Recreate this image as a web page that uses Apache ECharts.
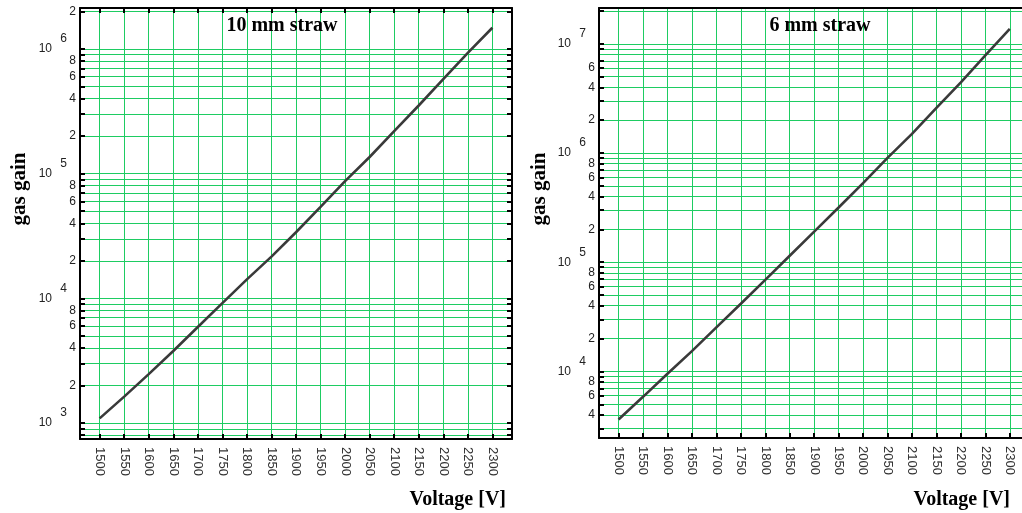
<!DOCTYPE html>
<html><head><meta charset="utf-8">
<script src="https://cdn.jsdelivr.net/npm/echarts@6/dist/echarts.min.js"></script>
<style>html,body{margin:0;padding:0;background:#fff}#c{width:1022px;height:513px}</style>
</head><body><div id="c"></div>
<script>
const voltages = [1500,1550,1600,1650,1700,1750,1800,1850,1900,1950,2000,2050,2100,2150,2200,2250,2300];
const gain10mm = [1090,1630,2470,3780,5890,9160,14200,21600,33900,54200,87100,136000,219000,352000,572000,931000,1480000];
const gain6mm = [3630,5850,9510,15350,25300,41700,68900,114600,190500,317000,530000,902000,1496000,2588000,4446000,7852000,13710000];
const voltageTicks = [1500,1550,1600,1650,1700,1750,1800,1850,1900,1950,2000,2050,2100,2150,2200,2250,2300];
const gridLines10mm = [800,900,1000,2000,3000,4000,5000,6000,7000,8000,9000,10000,20000,30000,40000,50000,60000,70000,80000,90000,100000,200000,300000,400000,500000,600000,700000,800000,900000,1000000,2000000];
const gridLines6mm = [3000,4000,5000,6000,7000,8000,9000,10000,20000,30000,40000,50000,60000,70000,80000,90000,100000,200000,300000,400000,500000,600000,700000,800000,900000,1000000,2000000,3000000,4000000,5000000,6000000,7000000,8000000,9000000,10000000,20000000];
const labels10mm = [1000,2000,4000,6000,8000,10000,20000,40000,60000,80000,100000,200000,400000,600000,800000,1000000,2000000];
const labels6mm = [4000,6000,8000,10000,20000,40000,60000,80000,100000,200000,400000,600000,800000,1000000,2000000,4000000,6000000,8000000,10000000];
const decades10mm = [1000,10000,100000,1000000];
const decades6mm = [10000,100000,1000000,10000000];
const titles = ['10 mm straw', '6 mm straw'];
const yAxisTitle = 'gas gain';
const xAxisTitle = 'Voltage [V]';

const GREEN = '#1ecc62';
const LBL = 'Liberation Sans, Arial, sans-serif';
const SERIF = 'Liberation Serif, Times New Roman, serif';

function mantissaLabel(v) {
  const e = Math.floor(Math.log10(v) + 1e-9);
  const m = Math.round(v / Math.pow(10, e));
  if (m === 1) return '{b|10}{s|}';
  return '{d|' + m + '}';
}
function exponentLabel(v) {
  return String(Math.round(Math.log10(v)));
}
const rich = {
  d: {fontSize: 12, color: '#222', fontFamily: LBL, lineHeight: 11},
  b: {fontSize: 12, color: '#222', fontFamily: LBL, lineHeight: 11},
  s: {width: 24, lineHeight: 11}
};
const blackLine = {show: true, onZero: false, lineStyle: {color: '#000', width: 2}};

function xAxes(gi, min, max, topTicks) {
  return [
    {type: 'value', gridIndex: gi, position: 'bottom', min: min, max: max, z: 10,
      axisLine: blackLine,
      axisTick: {show: true, inside: true, length: 5, lineStyle: {color: '#000', width: 2}, customValues: voltageTicks},
      axisLabel: {show: true, rotate: -90, margin: 8, fontSize: 13, color: '#333', fontFamily: LBL,
        customValues: voltageTicks, formatter: v => String(v)},
      splitLine: {show: false}, minorSplitLine: {show: false}, splitArea: {show: false}},
    {type: 'value', gridIndex: gi, position: 'top', min: min, max: max, z: 10,
      axisLine: blackLine,
      axisTick: {show: topTicks, inside: true, length: 5, lineStyle: {color: '#000', width: 2}, customValues: voltageTicks},
      axisLabel: {show: false}, splitLine: {show: false}, minorSplitLine: {show: false}, splitArea: {show: false}}
  ];
}
function yAxes(gi, min, max, grid, labels, decades, rightSide) {
  const arr = [
    {type: 'log', logBase: 10, gridIndex: gi, position: 'left', min: min, max: max, z: 10,
      axisLine: blackLine,
      axisTick: {show: true, inside: true, length: 5, lineStyle: {color: '#000', width: 2}, customValues: grid},
      axisLabel: {show: true, margin: 4, customValues: labels, formatter: mantissaLabel, rich: rich,
        showMinLabel: true, showMaxLabel: true, hideOverlap: false},
      splitLine: {show: false}, minorTick: {show: false}, minorSplitLine: {show: false}, splitArea: {show: false}},
    {type: 'log', logBase: 10, gridIndex: gi, position: 'left', min: min, max: max, z: 10,
      axisLine: {show: false}, axisTick: {show: false},
      axisLabel: {show: true, margin: 13, customValues: decades, formatter: exponentLabel,
        fontSize: 12, color: '#222', fontFamily: LBL, verticalAlign: 'bottom', padding: [0, 0, 4, 0],
        showMinLabel: true, showMaxLabel: true, hideOverlap: false},
      splitLine: {show: false}, minorSplitLine: {show: false}, splitArea: {show: false}}
  ];
  if (rightSide) {
    arr.push({type: 'log', logBase: 10, gridIndex: gi, position: 'right', min: min, max: max, z: 10,
      axisLine: blackLine,
      axisTick: {show: true, inside: true, length: 5, lineStyle: {color: '#000', width: 2}, customValues: grid},
      axisLabel: {show: false}, splitLine: {show: false}, minorSplitLine: {show: false}, splitArea: {show: false}});
  }
  return arr;
}

const chart = echarts.init(document.getElementById('c'));
const xa = xAxes(0, 1460, 2340, true).concat(xAxes(1, 1460, 2325, false));
const ya = yAxes(0, 745, 2.13e6, gridLines10mm, labels10mm, decades10mm, true)
  .concat(yAxes(1, 2455, 2.13e7, gridLines6mm, labels6mm, decades6mm, false));

function pairs(ys) { return voltages.map((v, i) => [v, ys[i]]); }
function gridSeries(xi, yi, ys, hLines) {
  return {type: 'line', xAxisIndex: xi, yAxisIndex: yi, data: pairs(ys), showSymbol: false, silent: true,
    lineStyle: {opacity: 0}, z: 1,
    markLine: {silent: true, symbol: ['none', 'none'], animation: false, label: {show: false},
      lineStyle: {color: GREEN, width: 1, type: 'solid', opacity: 1},
      emphasis: {disabled: true},
      data: voltageTicks.map(v => ({xAxis: v})).concat(hLines.map(v => ({yAxis: v})))}};
}

chart.setOption({
  animation: false,
  backgroundColor: '#fff',
  grid: [
    {left: 80, top: 8, width: 432, height: 431},
    {left: 599, top: 8, width: 424, height: 430}
  ],
  xAxis: xa,
  yAxis: ya,
  series: [
    gridSeries(0, 0, gain10mm, gridLines10mm),
    gridSeries(2, 3, gain6mm, gridLines6mm),
    {type: 'line', xAxisIndex: 0, yAxisIndex: 0, data: pairs(gain10mm), showSymbol: false,
      lineStyle: {color: '#3a3a3a', width: 2.6}, z: 5},
    {type: 'line', xAxisIndex: 2, yAxisIndex: 3, data: pairs(gain6mm), showSymbol: false,
      lineStyle: {color: '#3a3a3a', width: 2.6}, z: 5}
  ],
  graphic: [
    {type: 'text', x: 282, y: 26, z: 10, style: {text: titles[0], font: 'bold 20px ' + SERIF, fill: '#000', align: 'center', verticalAlign: 'middle'}},
    {type: 'text', x: 820, y: 26, z: 10, style: {text: titles[1], font: 'bold 20px ' + SERIF, fill: '#000', align: 'center', verticalAlign: 'middle'}},
    {type: 'text', x: 20, y: 189, rotation: Math.PI / 2, style: {text: yAxisTitle, font: 'bold 21px ' + SERIF, fill: '#000', align: 'center', verticalAlign: 'middle'}},
    {type: 'text', x: 540, y: 189, rotation: Math.PI / 2, style: {text: yAxisTitle, font: 'bold 21px ' + SERIF, fill: '#000', align: 'center', verticalAlign: 'middle'}},
    {type: 'text', x: 506, y: 500, style: {text: xAxisTitle, font: 'bold 20px ' + SERIF, fill: '#000', align: 'right', verticalAlign: 'middle'}},
    {type: 'text', x: 1010, y: 500, style: {text: xAxisTitle, font: 'bold 20px ' + SERIF, fill: '#000', align: 'right', verticalAlign: 'middle'}}
  ]
});
</script></body></html>
